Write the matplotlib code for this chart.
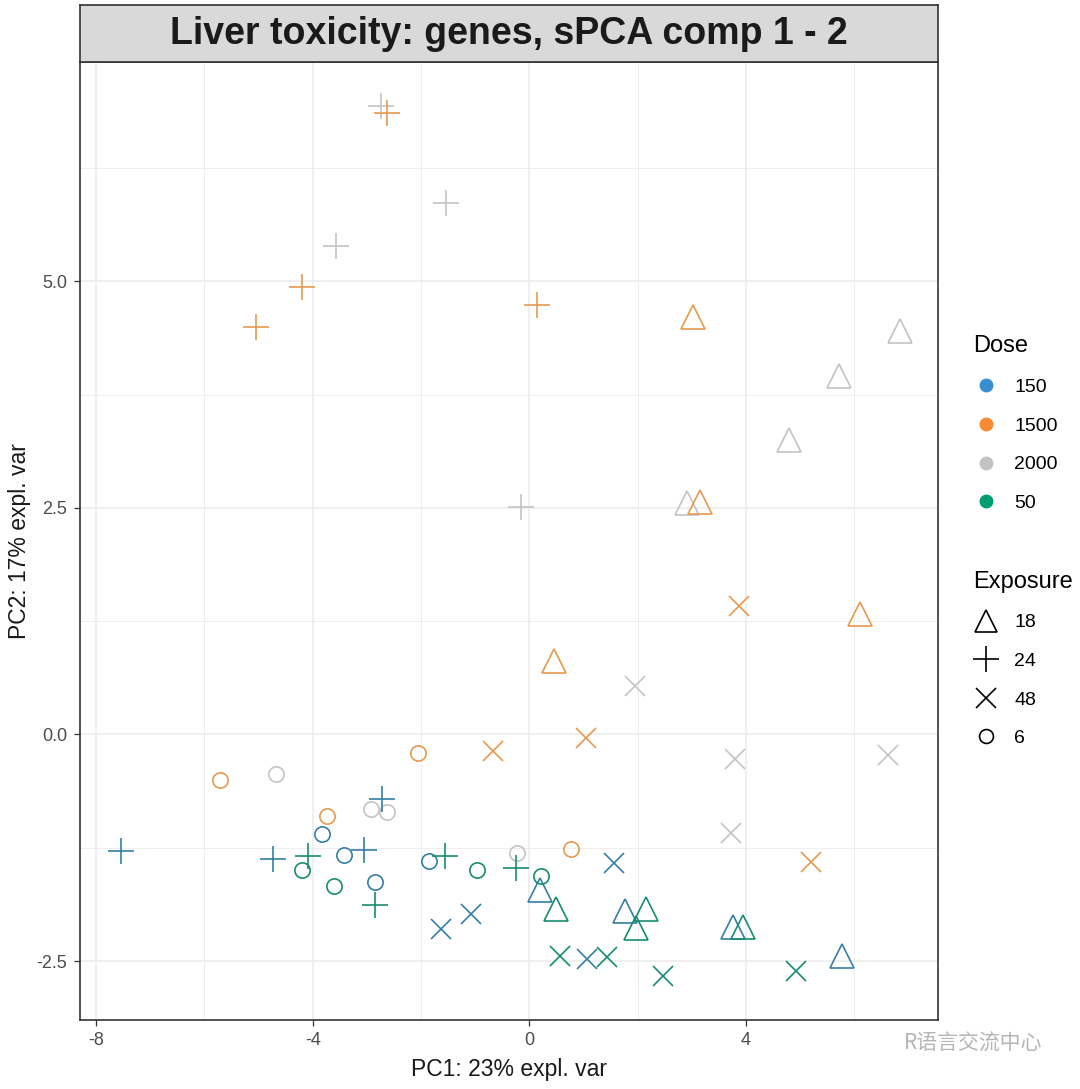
import matplotlib
matplotlib.use("Agg")
import matplotlib.pyplot as plt
from matplotlib.lines import Line2D
from matplotlib import font_manager

# --- data (sPCA comp 1 - 2) ---
dose_levels = ["150", "1500", "2000", "50"]
exposure_levels = ["18", "24", "48", "6"]

dose_colors = {"150": "#3A8ED0", "1500": "#F68B33", "2000": "#C2C2C2", "50": "#009E73"}
# thin outline markers look duller in the reference
point_colors = {"150": "#357FA6", "1500": "#E59A4E", "2000": "#C4C4C4", "50": "#168D70"}
exposure_markers = {"18": "^", "24": "+", "48": "x", "6": "o"}

# dose 1500
pc1_1500 = [-5.05, -4.20, -2.63, 0.14, 3.02, 3.15, 0.45, 6.11,
            3.88, 1.05, -0.67, 5.20, -5.72, -2.06, -3.74, 0.78]
pc2_1500 = [4.50, 4.94, 6.86, 4.74, 4.61, 2.57, 0.81, 1.33,
            1.42, -0.04, -0.18, -1.41, -0.50, -0.20, -0.90, -1.26]
# dose 2000
pc1_2000 = [-2.73, -1.54, -3.57, -0.16, 6.84, 5.72, 4.79, 2.91,
            1.95, 3.80, 6.62, 3.72, -4.68, -2.92, -2.62, -0.23]
pc2_2000 = [6.94, 5.87, 5.39, 2.51, 4.45, 3.96, 3.25, 2.55,
            0.54, -0.27, -0.23, -1.09, -0.44, -0.82, -0.86, -1.31]
# dose 150
pc1_150 = [-7.55, -4.73, -2.72, -3.05, 0.20, 1.77, 3.76, 5.77,
           -1.63, -1.07, 1.07, 1.56, -3.83, -3.43, -2.85, -1.85]
pc2_150 = [-1.29, -1.37, -0.71, -1.27, -1.72, -1.95, -2.12, -2.44,
           -2.15, -1.98, -2.48, -1.42, -1.10, -1.33, -1.63, -1.40]
# dose 50
pc1_50 = [-4.08, -2.85, -1.55, -0.25, 0.49, 2.15, 1.98, 3.94,
          0.57, 1.44, 2.47, 4.92, -4.20, -3.60, -0.96, 0.22]
pc2_50 = [-1.34, -1.88, -1.34, -1.47, -1.93, -1.93, -2.13, -2.12,
          -2.44, -2.45, -2.67, -2.61, -1.50, -1.67, -1.50, -1.56]

# exposure of the 16 samples in each dose group (same order in every group)
exposure_order = ["24"] * 4 + ["18"] * 4 + ["48"] * 4 + ["6"] * 4

groups = {
    "1500": (pc1_1500, pc2_1500),
    "2000": (pc1_2000, pc2_2000),
    "150": (pc1_150, pc2_150),
    "50": (pc1_50, pc2_50),
}

plt.rcParams["font.family"] = ["Liberation Sans", "DejaVu Sans"]
narrow = "Liberation Sans Narrow"
names = {f.name for f in font_manager.fontManager.ttflist}
title_family = narrow if narrow in names else "Liberation Sans"

fig = plt.figure(figsize=(10.8, 10.89), dpi=100)
ax = fig.add_axes([0.074, 0.0634, 0.7945, 0.8796])

marker_size = {"^": 17, "+": 19, "x": 14, "o": 11}
for dose in ["2000", "1500", "150", "50"]:
    xs, ys = groups[dose]
    for e in exposure_levels:
        m = exposure_markers[e]
        px = [x for x, ee in zip(xs, exposure_order) if ee == e]
        py = [y for y, ee in zip(ys, exposure_order) if ee == e]
        if m in ("+", "x"):
            ax.plot(px, py, linestyle="none", marker=m, color=point_colors[dose],
                    markersize=marker_size[m], markeredgewidth=1.2)
        else:
            ax.plot(px, py, linestyle="none", marker=m, markerfacecolor="none",
                    markeredgecolor=point_colors[dose], markersize=marker_size[m],
                    markeredgewidth=1.2)

ax.set_xlim(-8.3, 7.55)
ax.set_ylim(-3.15, 7.42)
ax.set_xticks([-8, -4, 0, 4])
ax.set_xticklabels(["-8", "-4", "0", "4"])
ax.set_yticks([-2.5, 0, 2.5, 5.0])
ax.set_yticklabels(["-2.5", "0.0", "2.5", "5.0"])
ax.set_xticks([-6, -2, 2, 6], minor=True)
ax.set_yticks([-1.25, 1.25, 3.75, 6.25], minor=True)
ax.grid(True, which="major", color="#EBEBEB", linewidth=1.1)
ax.grid(True, which="minor", color="#EBEBEB", linewidth=0.6)
ax.set_axisbelow(True)
ax.tick_params(which="major", length=4, color="#333333", labelsize=13,
               labelcolor="#4D4D4D", width=0.9, pad=5)
ax.tick_params(which="minor", length=0)
for s in ax.spines.values():
    s.set_color("#333333")
    s.set_linewidth(1.2)
ax.set_xlabel("PC1: 23% expl. var", fontsize=16.5, color="#1A1A1A", labelpad=6)
ax.set_ylabel("PC2: 17% expl. var", fontsize=16.5, color="#1A1A1A", labelpad=4)

# facet strip title
strip = fig.add_axes([0.074, 0.9434, 0.7945, 0.052])
strip.set_facecolor("#D9D9D9")
strip.set_xticks([])
strip.set_yticks([])
for s in strip.spines.values():
    s.set_color("#333333")
    s.set_linewidth(1.2)
strip.text(0.5, 0.48, "Liver toxicity: genes, sPCA comp 1 - 2", ha="center",
           va="center", fontsize=27, fontweight="bold", color="#1A1A1A",
           family=title_family, transform=strip.transAxes)

# legends
dose_handles = [Line2D([], [], linestyle="none", marker="o", markersize=9,
                       color=dose_colors[d], label=d) for d in dose_levels]
exp_handles = []
for e in exposure_levels:
    m = exposure_markers[e]
    if m in ("+", "x"):
        h = Line2D([], [], linestyle="none", marker=m, markersize=marker_size[m],
                   color="black", markeredgewidth=1.2, label=e)
    else:
        h = Line2D([], [], linestyle="none", marker=m, markersize=marker_size[m] - 1,
                   markerfacecolor="none", markeredgecolor="black",
                   markeredgewidth=1.2, label=e)
    exp_handles.append(h)

leg1 = fig.legend(handles=dose_handles, title="Dose", loc="upper left",
                  bbox_to_anchor=(0.885, 0.708), frameon=False, fontsize=14,
                  title_fontsize=17, labelspacing=1.08, handletextpad=0.8,
                  handlelength=1.3, alignment="left")
leg2 = fig.legend(handles=exp_handles, title="Exposure", loc="upper left",
                  bbox_to_anchor=(0.885, 0.492), frameon=False, fontsize=14,
                  title_fontsize=17, labelspacing=1.08, handletextpad=0.8,
                  handlelength=1.3, alignment="left")

# watermark
fig.text(0.965, 0.042, "R语言交流中心", ha="right", va="center", fontsize=15,
         color="#B5B5B5", family=["Noto Sans CJK SC", "DejaVu Sans"])

fig.savefig("out.png", dpi=100)
